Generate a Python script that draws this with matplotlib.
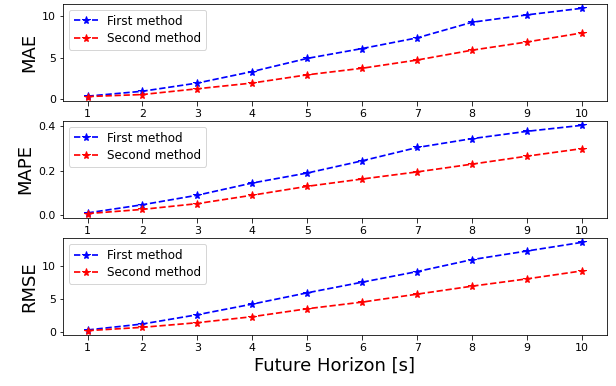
import matplotlib
matplotlib.use("Agg")
import matplotlib.pyplot as plt

horizon = [1, 2, 3, 4, 5, 6, 7, 8, 9, 10]

mae_first = [0.3, 0.9, 1.9, 3.3, 4.9, 6.1, 7.4, 9.3, 10.2, 11.0]
mae_second = [0.25, 0.5, 1.2, 1.9, 2.9, 3.7, 4.7, 5.9, 6.9, 8.0]

mape_first = [0.01, 0.047, 0.09, 0.145, 0.19, 0.245, 0.305, 0.345, 0.378, 0.405]
mape_second = [0.007, 0.026, 0.052, 0.09, 0.13, 0.163, 0.195, 0.23, 0.266, 0.30]

rmse_first = [0.3, 1.2, 2.6, 4.2, 5.9, 7.5, 9.1, 10.9, 12.2, 13.5]
rmse_second = [0.2, 0.7, 1.4, 2.3, 3.5, 4.5, 5.7, 6.9, 8.0, 9.2]

metrics = ["MAE", "MAPE", "RMSE"]
first = [mae_first, mape_first, rmse_first]
second = [mae_second, mape_second, rmse_second]

plt.rcParams['xtick.labelsize'] = 11
plt.rcParams['ytick.labelsize'] = 11
plt.rcParams['xtick.major.size'] = 4.5

fig, axes = plt.subplots(3, 1, figsize=(616 / 72, 386 / 72), dpi=72)
fig.subplots_adjust(left=0.102, right=0.985, top=0.99, bottom=0.132, hspace=0.205)

for ax, name, f, s in zip(axes, metrics, first, second):
    ax.plot(horizon, f, 'b--*', label='First method', markersize=8, linewidth=1.7)
    ax.plot(horizon, s, 'r--*', label='Second method', markersize=8, linewidth=1.7)
    ax.set_ylabel(name, fontsize=18)
    ax.set_xticks(horizon)
    ax.legend(loc='upper left', fontsize=12, labelspacing=0.35)

axes[-1].set_xlabel('Future Horizon [s]', fontsize=18)

fig.savefig("out.png", dpi=72)
